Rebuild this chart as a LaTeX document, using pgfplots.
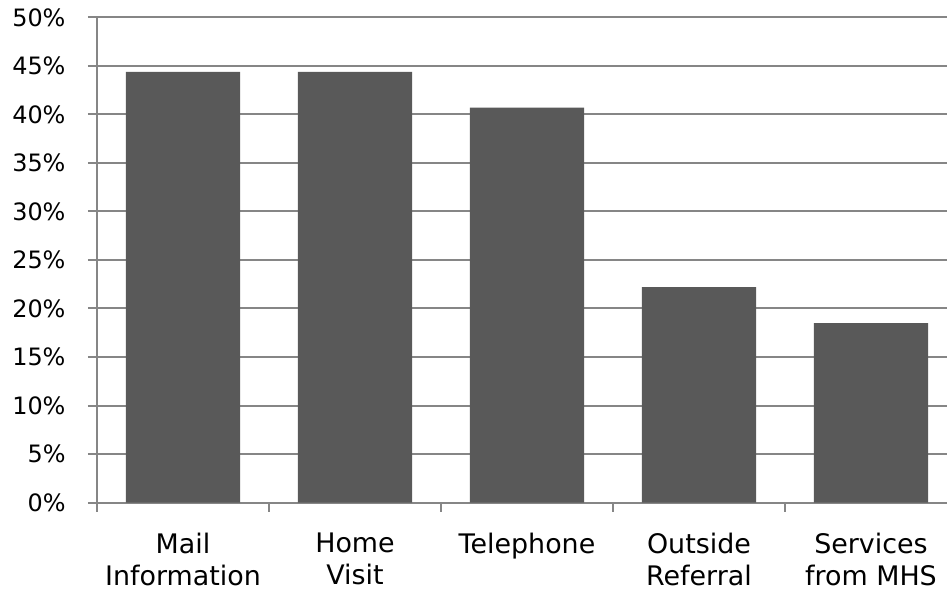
\documentclass[border=0pt]{standalone}
\usepackage{pgfplots}
\pgfplotsset{compat=1.18}
\usepackage{fontspec}
\setmainfont{DejaVu Sans}
\definecolor{barfill}{HTML}{595959}
\definecolor{gridgray}{HTML}{868686}

\begin{document}
\begin{tikzpicture}
  % page frame: plot area starts 97bp from the left, right side trimmed
  \useasboundingbox (-97bp,-91.5bp) rectangle (850bp,502.5bp);
  \begin{axis}[
    at={(0,0)}, anchor=south west,
    scale only axis,
    width=860bp, height=485bp,
    xmin=-0.5, xmax=4.5,
    ymin=0, ymax=50,
    axis line style={draw=gridgray, line width=2bp},
    axis x line*=bottom,
    axis y line*=left,
    ymajorgrids,
    grid style={draw=gridgray, line width=2bp},
    ytick={0,5,...,50},
    yticklabels={0\%,5\%,10\%,15\%,20\%,25\%,30\%,35\%,40\%,45\%,50\%},
    yticklabel style={font=\fontsize{24}{28}\selectfont, text=black, xshift=-19bp},
    xtick={0,1,2,3,4},
    xticklabels={{Mail\\Information},{Home\\Visit},{Telephone},{Outside\\Referral},{Services\\from MHS}},
    xticklabel style={font=\fontsize{27}{32.5}\selectfont, text=black, align=center,
      inner sep=0pt, text depth=0pt, yshift=-21bp},
    minor xtick={-0.5,0.5,...,4.5},
    major x tick style={draw=none},
    minor x tick style={draw=gridgray, line width=2bp},
    y tick style={draw=gridgray, line width=2bp},
    tick align=outside,
    major tick length=9bp,
    minor tick length=9bp,
    ybar,
    bar width=0.663,
  ]
    \addplot[fill=barfill, draw=none] coordinates {
      (0,44.4) (1,44.4) (2,40.7) (3,22.2) (4,18.5)
    };
  \end{axis}
\end{tikzpicture}
\end{document}
